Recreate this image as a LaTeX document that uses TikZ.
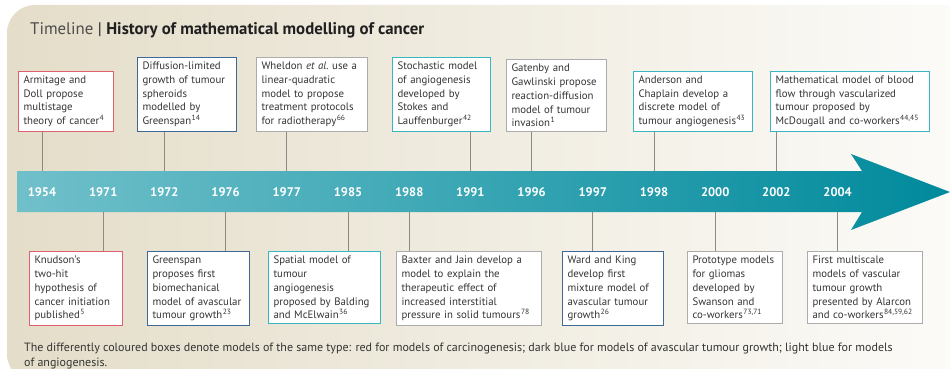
\documentclass[tikz,border=0pt]{standalone}
\usepackage{fontspec}
\setmainfont{PT Sans}
\usetikzlibrary{positioning}

\definecolor{carcino}{RGB}{222,96,108}
\definecolor{avascular}{RGB}{62,104,150}
\definecolor{angio}{RGB}{58,182,192}
\definecolor{othermodel}{RGB}{172,172,170}
\definecolor{linkgray}{RGB}{140,138,130}
\definecolor{bandleft}{RGB}{112,192,202}
\definecolor{bandmid}{RGB}{24,164,180}
\definecolor{bandright}{RGB}{0,138,156}
\definecolor{panelleft}{RGB}{228,221,201}
\definecolor{panelmid}{RGB}{240,236,225}
\definecolor{panelright}{RGB}{252,251,248}
\definecolor{bodytext}{RGB}{52,52,52}

\newcommand{\refno}[1]{\textsuperscript{\kern0.5pt#1}}

\tikzset{
  event/.style={draw=#1, line width=1.1pt, fill=white, align=left,
    inner xsep=5pt, inner ysep=4.5pt, text=bodytext,
    font=\fontsize{10.8}{13.8}\selectfont},
  yearlabel/.style={text=white, font=\fontsize{12.5}{14}\selectfont\bfseries},
  link/.style={draw=linkgray, line width=0.8pt}
}

\begin{document}
\begin{tikzpicture}[x=1pt,y=-1pt]
        \useasboundingbox (0,0) rectangle (950,369);

        % Panel behind everything
        \shade[left color=panelleft, middle color=panelmid, right color=panelright]
          (960,5) [rounded corners=28pt] -- (7,5) -- (7,382) [sharp corners] -- (960,382) -- cycle;

        \node[anchor=base west, inner sep=0, font=\fontsize{16.8}{19}\selectfont]
          (title) at (30,35) {\textcolor{black!70}{Timeline} \textcolor{black!85}{|} \textcolor{black!88}{\bfseries History of mathematical modelling of cancer}};

        % Arrow band
        \coordinate (bandtop) at (17,171);
        \coordinate (bandbot) at (17,212);
        \shade[left color=bandleft, middle color=bandmid, right color=bandright]
          (bandtop) -- (862,171) -- (851,154) -- (950,192) -- (851,230) -- (862,212) -- (bandbot) -- cycle;

        % Years
        \foreach \yr [count=\i from 0] in {1954,1971,1972,1976,1977,1985,1988,1991,1996,1997,1998,2000,2002,2004}
          \node[yearlabel] (y\yr) at ({42+61.2*\i},192) {\yr};

        % Boxes above the band
        \node[event=carcino, anchor=south west, text width=85pt] (armitage) at (18,132)
          {Armitage and\\Doll propose\\multistage\\theory of cancer\refno{4}};
        \node[event=avascular, anchor=south west, text width=89pt] (diffusion) at (137,132)
          {Diffusion-limited\\growth of tumour\\spheroids\\modelled by\\Greenspan\refno{14}};
        \node[event=othermodel, anchor=south west, text width=101pt] (wheldon) at (256,132)
          {Wheldon \textit{et al.}\ use a\\linear-quadratic\\model to propose\\treatment protocols\\for radiotherapy\refno{66}};
        \node[event=angio, anchor=south west, text width=88pt] (stokes) at (392,132)
          {Stochastic model\\of angiogenesis\\developed by\\Stokes and\\Lauffenburger\refno{42}};
        \node[event=othermodel, anchor=south west, text width=90pt] (gatenby) at (506,132)
          {Gatenby and\\Gawlinski propose\\reaction-diffusion\\model of tumour\\invasion\refno{1}};
        \node[event=angio, anchor=south west, text width=109pt] (anderson) at (633,132)
          {Anderson and\\Chaplain develop a\\discrete model of\\tumour angiogenesis\refno{43}};
        \node[event=angio, anchor=south west, text width=149pt] (mcdougall) at (770,132)
          {Mathematical model of blood\\flow through vascularized\\tumour proposed by\\McDougall and co-workers\refno{44,45}};

        % Boxes below the band
        \node[event=carcino, anchor=north west, text width=83pt] (knudson) at (29,251)
          {Knudson’s\\two-hit\\hypothesis of\\cancer initiation\\published\refno{5}};
        \node[event=avascular, anchor=north west, text width=92pt] (greenspan) at (147,251)
          {Greenspan\\proposes first\\biomechanical\\model of avascular\\tumour growth\refno{23}};
        \node[event=angio, anchor=north west, text width=102pt] (balding) at (268,251)
          {Spatial model of\\tumour\\angiogenesis\\proposed by Balding\\and McElwain\refno{36}};
        \node[event=othermodel, anchor=north west, text width=135pt] (baxter) at (396,251)
          {Baxter and Jain develop a\\model to explain the\\therapeutic effect of\\increased interstitial\\pressure in solid tumours\refno{78}};
        \node[event=avascular, anchor=north west, text width=91pt] (ward) at (562,251)
          {Ward and King\\develop first\\mixture model of\\avascular tumour\\growth\refno{26}};
        \node[event=othermodel, anchor=north west, text width=85pt] (swanson) at (687,251)
          {Prototype models\\for gliomas\\developed by\\Swanson and\\co-workers\refno{73,71}};
        \node[event=othermodel, anchor=north west, text width=105pt] (alarcon) at (807,251)
          {First multiscale\\models of vascular\\tumour growth\\presented by Alarcon\\and co-workers\refno{84,59,62}};

        % Connectors to the band
        \draw[link] (y1954 |- armitage.south) -- (y1954 |- bandtop);
        \draw[link] (y1972 |- diffusion.south) -- (y1972 |- bandtop);
        \draw[link] (y1977 |- wheldon.south) -- (y1977 |- bandtop);
        \draw[link] (y1991 |- stokes.south) -- (y1991 |- bandtop);
        \draw[link] (y1996 |- gatenby.south) -- (y1996 |- bandtop);
        \draw[link] (y1998 |- anderson.south) -- (y1998 |- bandtop);
        \draw[link] (y2002 |- mcdougall.south) -- (y2002 |- bandtop);

        \draw[link] (y1971 |- bandbot) -- (y1971 |- knudson.north);
        \draw[link] (y1976 |- bandbot) -- (y1976 |- greenspan.north);
        \draw[link] (y1985 |- bandbot) -- (y1985 |- balding.north);
        \draw[link] (y1988 |- bandbot) -- (y1988 |- baxter.north);
        \draw[link] (y1997 |- bandbot) -- (y1997 |- ward.north);
        \draw[link] (y2000 |- bandbot) -- (y2000 |- swanson.north);
        \draw[link] (y2004 |- bandbot) -- (y2004 |- alarcon.north);

        % Key
        \node[anchor=north west, inner sep=0, align=left, text=bodytext,
          font=\fontsize{12}{14.5}\selectfont] (key) at (24,343)
          {The differently coloured boxes denote models of the same type: red for models of carcinogenesis; dark blue for models of avascular tumour growth; light blue for models\\of angiogenesis.};
    \end{tikzpicture}
\end{document}
